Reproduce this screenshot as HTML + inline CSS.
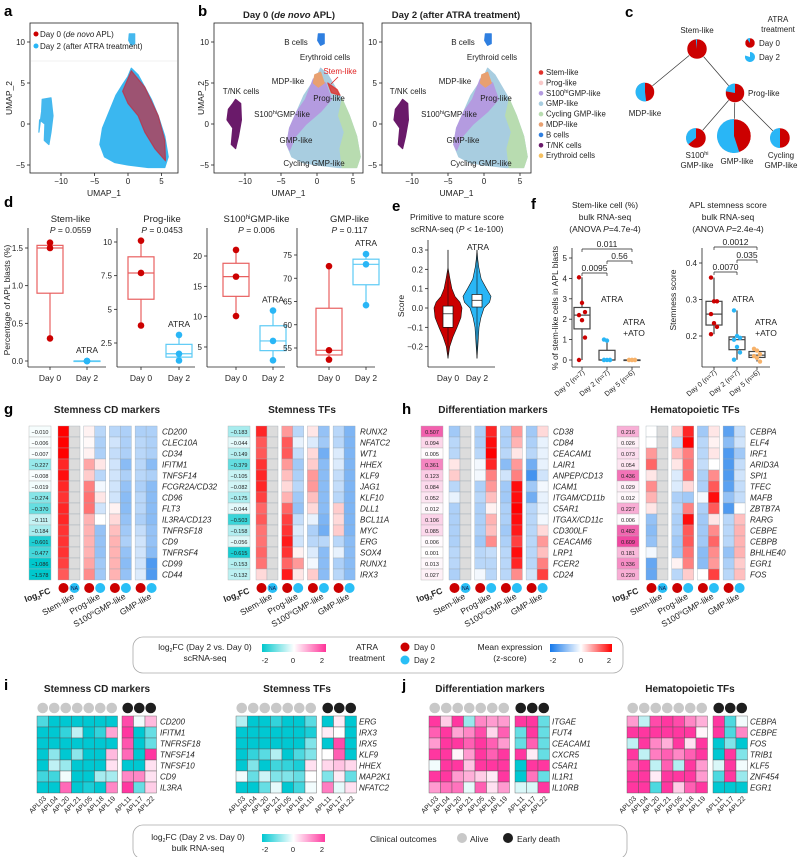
<!DOCTYPE html>
<html><head><meta charset="utf-8"><title>APL figure</title>
<style>html,body{margin:0;padding:0;background:#fff;}svg{display:block;}</style></head>
<body>
<svg id="fig" width="800" height="857" viewBox="0 0 800 857" font-family="Liberation Sans, Arial, sans-serif"></svg>
<script>
/* ---------------- DATA ---------------- */
const dDay0Stem=[1.57,1.5,0.3], dDay2Stem=[0,0,0];
const dDay0Prog=[10.1,7.7,3.8], dDay2Prog=[3.1,1.7,1.2];
const dDay0S100=[21,16.6,10.1], dDay2S100=[11,6,2.8];
const dDay0GMP=[72.6,54.5,52.5], dDay2GMP=[75.2,73,64.2];
const dTitles=['Stem-like','Prog-like','S100<tspan font-size="6" dy="-3">hi</tspan><tspan dy="3">GMP-like</tspan>','GMP-like'];
const dPvals=['0.0559','0.0453','0.006','0.117'];
const dTickValsStem=[0,0.5,1,1.5];
const dTickValsProg=[2.5,5,7.5,10];
const dTickValsS100=[5,10,15,20], dTickValsGMP=[55,60,65,70,75];
const eGrid=[-0.26,-0.2,-0.15,-0.1,-0.05,0,0.03,0.06,0.1,0.15,0.21,0.25,0.3];
const eDens0=[0,0.12,0.35,0.65,0.92,1,0.85,0.5,0.28,0.14,0,0,0];
const eDens2=[0,0.06,0.1,0.14,0.28,0.5,0.9,1,0.68,0.3,0.13,0.06,0];
const eBox0=[-0.1,-0.03,0.01], eBox2=[0.005,0.04,0.07];
const eTicks=[-0.2,-0.1,0,0.1,0.2,0.3];
const fStemD0=[4.05,2.8,2.35,2.2,1.95,1.1,0], fStemD2=[1.0,0.95,0,0,0,0,0], fStemD5=[0,0,0,0,0,0];
const fScoreD0=[0.36,0.295,0.295,0.26,0.235,0.225,0.205], fScoreD2=[0.27,0.2,0.195,0.19,0.17,0.155,0.135], fScoreD5=[0.165,0.16,0.15,0.145,0.14,0.13];
const fCats=['Day 0 (n=7)','Day 2 (n=7)','Day 5 (n=6)'];
const fStemP=['0.0095','0.56','0.011'], fScoreP=['0.0070','0.035','0.0012'];
const cNodes=['Stem-like','MDP-like','Prog-like','S100hi GMP-like','GMP-like','Cycling GMP-like'];
const cDay2Frac=[0.02,0.52,0.22,0.36,0.55,0.5];
const cSize=[10,9.5,9.5,10,17,10];
const gRowsL=['CD200','CLEC10A','CD34','IFITM1','TNFSF14','FCGR2A/CD32','CD96','FLT3','IL3RA/CD123','TNFRSF18','CD9','TNFRSF4','CD99','CD44'];
const gFcL=[-0.010,-0.006,-0.007,-0.227,-0.008,-0.019,-0.274,-0.370,-0.111,-0.184,-0.601,-0.477,-1.086,-1.578];
const gZL=[[2,null,0.1,-0.6,-0.6,-0.7,-0.7,-0.7],[2,null,0.05,-0.7,-0.4,-0.7,-0.6,-0.7],[2,null,0.1,-0.7,-0.5,-0.7,-0.6,-0.7],[1.7,null,0.7,0.2,-0.4,-1.0,-0.6,-1.0],[1.9,null,0.4,-0.6,-0.4,-0.7,-0.6,-0.7],[1.7,null,1.0,-0.1,-0.4,-0.9,-0.7,-1.0],[1.6,null,1.1,0.2,-0.4,-1.0,-0.6,-1.0],[1.7,null,1.1,-0.4,0.1,-1.0,-0.6,-1.0],[1.7,null,0.6,0,0.3,-0.9,-0.7,-1.0],[1.6,null,0.6,-0.9,0.5,-0.8,-0.5,-0.9],[1.6,null,0.6,-0.9,0.6,-0.7,-0.4,-0.9],[1.6,null,0.6,-0.9,0.6,-0.9,-0.4,-1.0],[1.5,null,0.7,-0.8,0.6,-1.0,-0.4,-1.5],[1.3,null,0.9,-0.8,0.6,-0.9,-0.3,-1.5]];
const gRowsR=['RUNX2','NFATC2','WT1','HHEX','KLF9','JAG1','KLF10','DLL1','BCL11A','MYC','ERG','SOX4','RUNX1','IRX3'];
const gFcR=[-0.183,-0.044,-0.149,-0.379,-0.105,-0.082,-0.175,-0.044,-0.503,-0.158,-0.056,-0.615,-0.153,-0.132];
const gZR=[[1.7,null,0.8,-0.6,0.2,-0.9,-0.6,-1.1],[1.3,null,1.3,-0.2,-0.3,-0.8,-0.6,-1.1],[1.3,null,1.3,-0.5,0.3,-1.2,-0.3,-1.1],[1.6,null,0.8,-0.8,0.4,-1.0,-0.3,-1.1],[1.7,null,0.5,-0.7,0.8,-1.0,-0.5,-1.1],[1.7,null,0.3,-0.6,0.8,-1.0,-0.5,-1.1],[1.5,null,0.6,-0.8,0.5,-1.0,-0.6,-1.1],[1.2,null,1.2,-0.9,0.3,-1.0,0.4,-1.1],[1.3,null,1.5,-0.5,-0.2,-1.1,0.3,-1.1],[1.1,null,1.6,-0.3,-0.7,-1.2,0.4,-1.1],[1.1,null,1.8,-0.4,-0.6,-0.6,-0.6,-1.0],[1.2,null,1.6,0.1,-0.3,-1.0,-0.2,-1.0],[1.1,null,1.2,0.8,-0.1,-1.0,-0.7,-1.0],[0.3,null,1.8,0.2,0.4,-1.0,-0.6,-1.0]];
const hRowsL=['CD38','CD84','CEACAM1','LAIR1','ANPEP/CD13','ICAM1','ITGAM/CD11b','C5AR1','ITGAX/CD11c','CD300LF','CEACAM6','LRP1','FCER2','CD24'];
const hFcL=[0.507,0.094,0.005,0.361,0.123,0.084,0.052,0.012,0.106,0.085,0.006,0.001,0.013,0.027];
const hZL=[[-0.8,null,-0.7,1.7,-0.7,0.8,-0.8,0.3],[-0.6,null,-0.7,1.9,-0.7,0.6,-0.7,-0.2],[-0.6,null,-0.6,2,-0.6,0.2,-0.6,-0.2],[0.2,null,-0.1,1.7,-1.0,0.8,-1.2,-0.2],[0.4,null,-0.1,1.0,-0.4,1.0,-1.6,-0.4],[-0.6,null,-0.7,0.8,-0.8,1.9,-0.8,-0.1],[-0.2,null,-0.6,0.5,-0.8,1.9,-1.2,-0.2],[-0.7,null,-0.7,0.1,-0.7,2,-0.6,-0.2],[-0.7,null,-0.7,0.6,-0.7,1.9,-0.6,-0.1],[-0.7,null,-0.7,0.5,-0.8,1.8,-0.6,0.3],[-0.7,null,-0.8,0.9,-0.7,1.5,-0.6,0.8],[-0.6,null,-0.6,-0.5,-0.6,1.9,-0.6,0.5],[-0.6,null,-0.6,-0.6,-0.6,1.7,-0.6,1.0],[-0.7,null,-0.1,-0.6,-0.6,0.9,-0.4,1.5]];
const hRowsR=['CEBPA','ELF4','IRF1','ARID3A','SPI1','TFEC','MAFB','ZBTB7A','RARG','CEBPE','CEBPB','BHLHE40','EGR1','FOS'];
const hFcR=[0.216,0.026,0.073,0.054,0.436,0.029,0.012,0.227,0.006,0.482,0.609,0.181,0.336,0.220];
const hZR=[[0,null,0.4,1.7,-0.8,0.2,-1.4,-0.5],[0,null,-0.5,2,-0.6,0.1,-1.0,-0.4],[0.8,null,0.5,1.0,-0.6,0.2,-1.5,-0.8],[1.2,null,0.2,1.1,-0.5,0,-1.5,-0.5],[0.2,null,-0.3,1.1,-0.7,0.9,-1.5,-0.4],[0.9,null,-0.3,0.3,-0.7,1.3,-1.4,-0.5],[0.6,null,-0.7,-0.8,-0.1,1.9,-0.9,-0.5],[0.2,null,-0.6,1.0,-0.7,1.3,-1.5,0],[-0.9,null,-0.7,1.9,-0.8,0.2,-0.6,0.5],[-1.0,null,-0.7,1.3,-0.8,0.9,-0.6,0.6],[-0.9,null,-0.8,1.3,-0.8,1.2,-0.6,0.6],[-0.1,null,-0.8,1.1,-1.0,0.9,-0.9,0.6],[-1.3,null,0.1,1.0,-1.0,0.8,-0.7,0.4],[-1.3,null,-0.6,0.4,0,1.5,-0.6,0.5]];
const patients=['APL03','APL04','APL20','APL21','APL05','APL18','APL19','APL11','APL17','APL22'];
const iRowsL=['CD200','IFITM1','TNFRSF18','TNFSF14','TNFSF10','CD9','IL3RA'];
const iZL=[[-1.4,-2,-2,-2,-2,-2,-2,1.8,-0.1,0.7],[-2,-2,-1.6,-0.5,-2,-1.6,0.9,2,-2,-1.2],[-2,-2,-2,-2,-2,-2,-2,1.7,-2,-1.2],[-2,-0.9,-2,-0.9,-2,-2,0.7,1.5,-2,2],[-2,-0.5,-0.8,-2,-2,-2,0.3,-2,-2,0.3],[-1.5,-1.5,-0.1,-2,-2,-0.7,-0.7,1.2,1.2,0.3],[-2,-2,1.5,-2,-1.8,-2,1.2,2,-1.2,0.5]];
const iRowsR=['ERG','IRX3','IRX5','KLF9','HHEX','MAP2K1','NFATC2'];
const iZR=[[-0.6,-2,-2,-1.6,-2,-2,-1.3,-2,0.2,-2],[-2,-2,-2,-2,-2,-2,-1.8,0.2,0,-2],[-2,-2,-2,-2,-2,-2,-1.0,-2,1.8,-2],[-2,-1.6,-1.3,-0.6,-2,-1.4,-1.0,0,1.6,-2],[-2,-1,-2,-1.5,-1.6,-1.8,0.3,0.4,0.6,0.4],[-0.1,-1.2,-0.4,-1,-1,-1.2,0,-1,0.2,-1.2],[-2,-2,-1.2,-0.2,-2,-1.5,-0.1,1.3,-0.2,0.3]];
const jRowsL=['ITGAE','FUT4','CEACAM1','CXCR5','C5AR1','IL1R1','IL10RB'];
const jZL=[[2,0.5,2,-0.8,1.2,1.0,1.0,2,2,-1.2],[1.6,2,0.9,1.2,1.8,0.4,1.6,-1.2,2,-1.2],[1.0,2,2,1.6,2,1.6,1.0,-1.2,1.6,-1.2],[2,2,0.1,1,2,1.6,2,2,0.2,-1.2],[-0.1,2,2,0.6,2,2,2,-2,2,2],[2,2,1,0.8,0.5,0.2,2,-2,1.4,-1.2],[1,1.4,1.4,-0.2,1.6,0.3,1.0,-0.3,-0.3,2]];
const jRowsR=['CEBPA','CEBPE','FOS','TRIB1','KLF5','ZNF454','EGR1'];
const jZR=[[1,-0.5,1.8,2,1.8,1.2,0.8,2,-1.4,-0.1],[2,2,2,2,2,2,0.1,2,-1.4,1.2],[-0.5,2,1.2,0.8,2,0.3,2,-2,-1,-2],[2,-0.5,1.3,1.6,1.2,1.6,2,-2,2,-1],[1.6,2,-0.5,1.6,-0.6,2,1.0,-0.3,2,-0.1],[2,2,0.2,2,2,2,1.0,-1.4,2,-0.8],[2,2,-1.4,2,0.5,1.6,2,-2,-2,-2]];
const uMain=[[0.5,6.8],[1.5,6],[2.5,4.5],[3.5,3],[4.5,1],[5.5,-1.5],[6,-4],[5.5,-5.3],[3,-5.3],[0,-5],[-2,-4.7],[-3.5,-4],[-4.2,-2.5],[-3.8,-0.5],[-2.8,1.5],[-1.8,3.5],[-0.8,4.8],[0,5.8]];
const uRed=[[0.5,6.5],[2.5,4.5],[4.5,1],[5.5,-2],[5.6,-4.5],[4,-3],[2.5,-1],[1.5,1],[0,2.5],[-0.8,4]];
const uLeft=[[-12.8,3],[-11.5,3.2],[-11.2,1],[-11.5,-1],[-11.8,-2.5],[-12.5,-2],[-12.4,0],[-13.2,0.5],[-13.3,-1],[-12.9,1.5]];
const uTNK=[[-11.3,3],[-10.6,2.5],[-10.5,0.5],[-10.9,-1.5],[-11.3,-3],[-11.9,-2.5],[-11.7,-0.5],[-12.5,0.5],[-12.3,1.8],[-11.7,2.5]];
const uPurple=[[-0.5,5.5],[1.2,5],[2,3],[0.5,1.5],[-1.5,0],[-3,-1.5],[-3.8,-3.2],[-4.2,-2.5],[-3.8,-0.5],[-2.8,1.5],[-1.6,3]];
const uGreen=[[3.5,3],[4.5,1],[5.5,-1.5],[6,-4],[5.5,-5.3],[3.5,-5.3],[3.2,-3],[3.8,-1],[3,1]];
const uMDP=[[-0.3,6],[0.5,6.3],[1,5],[0.2,4.5],[-0.5,5]];
const uStem=[[1.5,5],[2.8,4.2],[3.2,3.5],[2,3.8]];
const uB=[[0.2,11],[1,11],[1,9.8],[0.5,9.6],[0.1,10.2]];
const bLegend=['Stem-like','Prog-like','S100<tspan font-size="5.5" dy="-3">hi</tspan><tspan dy="3">GMP-like</tspan>','GMP-like','Cycling GMP-like','MDP-like','B cells','T/NK cells','Erythroid cells'];
const bLegendCol=['#e0302a','#f8c8c8','#b49be0','#a8cde0','#b8dcb0','#e8a070','#2f7fe0','#6a1a6a','#f5c060'];

/* ---------------- HELPERS ---------------- */
const NS='http://www.w3.org/2000/svg';
const svg=document.getElementById('fig');
function mk(tag,a,p){const e=document.createElementNS(NS,tag);for(const k in a)e.setAttribute(k,a[k]);(p||svg).appendChild(e);return e;}
function tx(x,y,s,a,name){
  const e=mk('text',Object.assign({x:x,y:y,'font-size':8,fill:'#222'},a||{}));
  if(String(s).indexOf('<')>=0)e.innerHTML=s;else e.textContent=s;
  
  
  return e;}
function ln(x1,y1,x2,y2,st,w,name){const e=mk('line',{x1:x1,y1:y1,x2:x2,y2:y2,stroke:st||'#222','stroke-width':w||0.8});
  
  return e;}
function mix(a,b,t){return 'rgb('+a.map((v,i)=>Math.round(v+(b[i]-v)*t)).join(',')+')';}
const W=[255,255,255];
function zcol(v){if(v===null)return '#dcdcdc';let t=Math.max(-1,Math.min(1,v/2));return t<0?mix(W,[20,120,235],-t):mix(W,[255,0,0],t);}
function fcol(v){let t=Math.pow(Math.min(1,Math.abs(v)/0.7),0.8);return v<0?mix(W,[0,200,205],t):mix(W,[238,50,150],t);}
function bcol(v){let t=Math.min(1,Math.abs(v)/2);return v<0?mix(W,[0,200,210],t):mix(W,[255,55,160],t);}
function quant(arr,q){const s=arr.slice().sort((a,b)=>a-b);const p=(s.length-1)*q;const lo=Math.floor(p),hi=Math.ceil(p);return s[lo]+(s[hi]-s[lo])*(p-lo);}
function panelLabel(x,y,s){tx(x,y,s,{'font-size':15,'font-weight':'bold',fill:'#000'},'panel-label-'+s);}

panelLabel(4,16,'a');panelLabel(198,16,'b');panelLabel(625,17,'c');
panelLabel(4,207,'d');panelLabel(392,211,'e');panelLabel(531,209,'f');
panelLabel(4,414,'g');panelLabel(402,414,'h');panelLabel(4,690,'i');panelLabel(402,690,'j');

/* ---------------- UMAP a / b ---------------- */
function poly(pts,xf,yf,fill,op,name){const e=mk('polygon',{points:pts.map(p=>xf(p[0]).toFixed(1)+','+yf(p[1]).toFixed(1)).join(' '),fill:fill,'fill-opacity':op,stroke:fill,'stroke-width':1.2,'stroke-linejoin':'round','stroke-opacity':op});
  
  return e;}
function umapAxes(x0,x1,xf,name){
  const r=mk('rect',{x:x0,y:23,width:x1-x0,height:150,fill:'none',stroke:'#222','stroke-width':0.8});
  
  
  [-10,-5,0,5].forEach(u=>{ln(xf(u),173,xf(u),176,'#222',0.8,name+'-x-tick');tx(xf(u),184,u===0?'0':(u<0?'\u2212'+(-u):u),{'text-anchor':'middle','font-size':8},name+'-x-tick-label');});
  [10,5,0,-5].forEach(v=>{ln(x0-3,aY(v),x0,aY(v),'#222',0.8,name+'-y-tick');tx(x0-5,aY(v)+3,v<0?'\u2212'+(-v):v,{'text-anchor':'end','font-size':8},name+'-y-tick-label');});
  tx((x0+x1)/2,196,'UMAP_1',{'text-anchor':'middle','font-size':8.5},name+'-x-axis-title');
}
const aX=u=>128+6.7*u, aY=v=>124-8.2*v;
const b1X=u=>317+7.2*u, b2X=u=>484+7.2*u;
umapAxes(30,178,aX,'umap-a');
tx(12,98,'UMAP_2',{'text-anchor':'middle','font-size':8.5,transform:'rotate(-90 12 98)'},'umap-a-y-axis-title');
poly(uMain,aX,aY,'#3ab7f0',1,'umap-a-main-cloud');
poly(uRed,aX,aY,'#c8283c',0.7,'umap-a-day0-cloud');
poly(uLeft,aX,aY,'#45b8ee',1,'umap-a-left-cluster');
poly(uB,aX,aY,'#45b8ee',1,'umap-a-top-cluster');
ln(31,61,177,61,'#eee',0.8,'umap-a-legend-rule');
mk('circle',{cx:36,cy:34,r:2.5,fill:'#cc0000'});
mk('circle',{cx:36,cy:46,r:2.5,fill:'#29b6f6'});
tx(40,37,'Day 0 (<tspan font-style="italic">de novo</tspan> APL)',{'font-size':8},'legend-day0');
tx(40,49,'Day 2 (after ATRA treatment)',{'font-size':8},'legend-day2');
function umapB(xf,x0,day0,name){
  umapAxes(x0,x0+149,xf,name);
  poly(uMain,xf,aY,'#a8cde0',1,name+'-gmp-cloud');
  poly(uGreen,xf,aY,'#b8dcb0',1,name+'-cycling-cloud');
  poly(uPurple,xf,aY,'#b49be0',1,name+'-s100-cloud');
  poly(uMDP,xf,aY,'#e8a070',1,name+'-mdp-cloud');
  if(day0)poly(uStem,xf,aY,'#e0302a',0.8,name+'-stem-cloud');
  poly(uTNK,xf,aY,'#6a1a6a',1,name+'-tnk-cloud');
  poly(uB,xf,aY,'#2f7fe0',1,name+'-b-cloud');
  const o=xf(0)-317;
  tx(296+o,45,'B cells',{'text-anchor':'middle','font-size':8},name+'-b-label');
  tx(325+o,60,'Erythroid cells',{'text-anchor':'middle','font-size':8},name+'-ery-label');
  tx(288+o,84,'MDP-like',{'text-anchor':'middle','font-size':8},name+'-mdp-label');
  tx(329+o,101,'Prog-like',{'text-anchor':'middle','font-size':8},name+'-prog-label');
  tx(241+o,94,'T/NK cells',{'text-anchor':'middle','font-size':8},name+'-tnk-label');
  tx(282+o,117,'S100<tspan font-size="5.5" dy="-3">hi</tspan><tspan dy="3">GMP-like</tspan>',{'text-anchor':'middle','font-size':8},name+'-s100-label');
  tx(296+o,143,'GMP-like',{'text-anchor':'middle','font-size':8},name+'-gmp-label');
  tx(314+o,166,'Cycling GMP-like',{'text-anchor':'middle','font-size':8},name+'-cycling-label');
  if(day0){tx(340,74,'Stem-like',{'text-anchor':'middle','font-size':8,fill:'#e02020'},name+'-stem-label');ln(338,77,331,84,'#e02020',0.8,'stem-pointer');}
}
umapB(b1X,214,true,'umap-b-day0');
umapB(b2X,382,false,'umap-b-day2');
tx(204,98,'UMAP_2',{'text-anchor':'middle','font-size':8.5,transform:'rotate(-90 204 98)'},'umap-b-y-axis-title');
tx(289,18,'Day 0 (<tspan font-style="italic">de novo</tspan> APL)',{'text-anchor':'middle','font-size':9.5,'font-weight':'bold'},'umap-b-day0-title');
tx(456,18,'Day 2 (after ATRA treatment)',{'text-anchor':'middle','font-size':9.5,'font-weight':'bold'},'umap-b-day2-title');
bLegend.forEach((s,i)=>{const y=75+i*10.4;const c=mk('circle',{cx:541,cy:y-2.5,r:2.3,fill:bLegendCol[i]});
  
  tx(546,y,s,{'font-size':7.8},'umap-b-legend-entry');});

/* ---------------- PANEL c ---------------- */
const cPos=[[697,49],[645,92],[735,93],[696,138],[734,136],[780,138]];
const cEdges=[[0,1],[0,2],[2,3],[2,4],[2,5]];
cEdges.forEach(e=>ln(cPos[e[0]][0],cPos[e[0]][1],cPos[e[1]][0],cPos[e[1]][1],'#333',0.7,'tree-edge'));
function pie(cx,cy,r,frac,name){
  const c=mk('circle',{cx:cx,cy:cy,r:r,fill:'#cc0000',stroke:'#fff','stroke-width':0.5});
  
  
  if(frac>0){const a=2*Math.PI*frac;const x=cx+r*Math.sin(-a),y=cy-r*Math.cos(-a);
    const p=mk('path',{d:`M${cx},${cy} L${cx},${cy-r} A${r},${r} 0 ${frac>0.5?1:0} 0 ${x.toFixed(2)},${y.toFixed(2)} Z`,fill:'#29b6f6'});
    
    }
}
cNodes.forEach((n,i)=>pie(cPos[i][0],cPos[i][1],cSize[i],cDay2Frac[i],'pie-'+n.replace(/\s/g,'-').toLowerCase()));
tx(697,33,'Stem-like',{'text-anchor':'middle','font-size':8},'node-label');
tx(645,116,'MDP-like',{'text-anchor':'middle','font-size':8},'node-label');
tx(748,96,'Prog-like',{'font-size':8},'node-label');
tx(697,158,'S100<tspan font-size="5.5" dy="-3">hi</tspan>',{'text-anchor':'middle','font-size':8},'node-label');
tx(697,168,'GMP-like',{'text-anchor':'middle','font-size':8},'node-label');
tx(737,164,'GMP-like',{'text-anchor':'middle','font-size':8},'node-label');
tx(781,158,'Cycling',{'text-anchor':'middle','font-size':8},'node-label');
tx(781,168,'GMP-like',{'text-anchor':'middle','font-size':8},'node-label');
tx(778,22,'ATRA',{'text-anchor':'middle','font-size':8},'legend-title');
tx(778,32,'treatment',{'text-anchor':'middle','font-size':8},'legend-title');
pie(750,43,5,0.1,'legend-pie-day0');
const lp=mk('path',{d:'M750,57 L750,52 A5,5 0 1 1 745.2,55.5 Z',fill:'#29b6f6'});

tx(759,46,'Day 0',{'font-size':8},'legend-day0');
tx(759,60,'Day 2',{'font-size':8},'legend-day2');

/* ---------------- PANEL d ---------------- */
function boxplot(xc,vals,yf,col,stroke,name,w){
  w=w||13;const q1=quant(vals,0.25),md=quant(vals,0.5),q3=quant(vals,0.75),mn=Math.min(...vals),mx=Math.max(...vals);
  ln(xc,yf(mx),xc,yf(q3),stroke,1.2,name+'-whisker');ln(xc,yf(q1),xc,yf(mn),stroke,1.2,name+'-whisker');
  const r=mk('rect',{x:xc-w,y:yf(q3),width:2*w,height:Math.max(0.5,yf(q1)-yf(q3)),fill:'none',stroke:stroke,'stroke-width':1.2});
  
  
  ln(xc-w,yf(md),xc+w,yf(md),stroke,1.2,name+'-median');
}
function dpanel(ax,x0,x2,yf,ticks,d0,d2,title,p,name){
  ln(ax,228,ax,367,'#222',0.8,name+'-y-axis');ln(ax,367,ax+78,367,'#222',0.8,name+'-x-axis');
  ticks.forEach(v=>{ln(ax-3,yf(v),ax,yf(v),'#222',0.8,name+'-y-tick');tx(ax-5,yf(v)+3,v>=10||Number.isInteger(v)&&v>4?String(v):v.toFixed(1),{'text-anchor':'end','font-size':8},name+'-y-tick-label');});
  [x0,x2].forEach((x,i)=>{ln(x,367,x,370,'#222',0.8,name+'-x-tick');tx(x,381,i?'Day 2':'Day 0',{'text-anchor':'middle','font-size':8.5},name+'-x-tick-label');});
  boxplot(x0,d0,yf,'#cc0000','#e86060',name+'-day0');boxplot(x2,d2,yf,'#29b6f6','#5ccaf5',name+'-day2');
  d0.forEach(v=>{const c=mk('circle',{cx:x0,cy:yf(v),r:3.3,fill:'#cc0000'});});
  d2.forEach(v=>{const c=mk('circle',{cx:x2,cy:yf(v),r:3.3,fill:'#29b6f6'});});
  tx(x2,yf(Math.max(...d2))-8,'ATRA',{'text-anchor':'middle','font-size':8.5},name+'-atra-label');
  tx((x0+x2)/2+2,222,title,{'text-anchor':'middle','font-size':9.5},name+'-title');
  tx((x0+x2)/2+2,233,'<tspan font-style="italic">P</tspan> = '+p,{'text-anchor':'middle','font-size':8.5},name+'-pvalue');
}
const lin=(vA,yA,vB,yB)=>v=>yA+(v-vA)*(yB-yA)/(vB-vA);
dpanel(28,50,87,lin(0,361,1.5,248),dTickValsStem,dDay0Stem,dDay2Stem,dTitles[0],dPvals[0],'box-stem');
dpanel(117,141,179,lin(2.5,343,10,242),dTickValsProg,dDay0Prog,dDay2Prog,dTitles[1],dPvals[1],'box-prog');
dpanel(207,236,273,lin(5,347,20,256),dTickValsS100,dDay0S100,dDay2S100,dTitles[2],dPvals[2],'box-s100');
dpanel(297,329,366,lin(55,348,75,255),dTickValsGMP,dDay0GMP,dDay2GMP,dTitles[3],dPvals[3],'box-gmp');
tx(10,300,'Percentage of APL blasts (%)',{'text-anchor':'middle','font-size':8.5,transform:'rotate(-90 10 300)'},'d-y-axis-title');

/* ---------------- PANEL e ---------------- */
const eY=lin(0,308,0.3,250);
ln(428,240,428,367,'#222',0.8,'e-y-axis');ln(428,367,495,367,'#222',0.8,'e-x-axis');
eTicks.forEach(v=>{ln(425,eY(v),428,eY(v),'#222',0.8,'e-y-tick');tx(423,eY(v)+3,(v<0?'\u2212':'')+Math.abs(v).toFixed(1),{'text-anchor':'end','font-size':8},'e-y-tick-label');});
function violin(xc,dens,col,name){
  const L=eGrid.map((g,i)=>[xc-dens[i]*14,eY(g)]);const R=eGrid.map((g,i)=>[xc+dens[i]*14,eY(g)]).reverse();
  const p=mk('polygon',{points:L.concat(R).map(q=>q[0].toFixed(1)+','+q[1].toFixed(1)).join(' '),fill:col,stroke:'#111','stroke-width':0.6,'stroke-linejoin':'round'});
  
  }
violin(448,eDens0,'#cc0000','violin-day0');violin(477,eDens2,'#29b6f6','violin-day2');
function ebox(xc,b,name){ln(xc,eY(eGrid[0]),xc,eY(eGrid[eGrid.length-1]),'#111',0.6,name+'-line');
  const r=mk('rect',{x:xc-5,y:eY(b[2]),width:10,height:eY(b[0])-eY(b[2]),fill:'#fff',stroke:'#111','stroke-width':0.7});
  
  
  ln(xc-5,eY(b[1]),xc+5,eY(b[1]),'#111',0.7,name+'-median');}
ebox(448,eBox0,'violin-box-day0');ebox(477,eBox2,'violin-box-day2');
tx(448,381,'Day 0',{'text-anchor':'middle','font-size':8.5},'e-x-tick-label');tx(477,381,'Day 2',{'text-anchor':'middle','font-size':8.5},'e-x-tick-label');
tx(478,250,'ATRA',{'text-anchor':'middle','font-size':8.5},'e-atra-label');
tx(457,220,'Primitive to mature score',{'text-anchor':'middle','font-size':8.5},'e-title');
tx(457,232,'scRNA-seq (<tspan font-style="italic">P</tspan> &lt; 1e-100)',{'text-anchor':'middle','font-size':8.5},'e-subtitle');
tx(404,306,'Score',{'text-anchor':'middle','font-size':8.5,transform:'rotate(-90 404 306)'},'e-y-axis-title');

/* ---------------- PANEL f ---------------- */
function fpanel(ax,xs,yf,ticks,fmt,groups,pv,bY,name){
  ln(ax,248,ax,367,'#222',0.8,name+'-y-axis');ln(ax,367,ax+68,367,'#222',0.8,name+'-x-axis');
  ticks.forEach(v=>{ln(ax-3,yf(v),ax,yf(v),'#222',0.8,name+'-y-tick');tx(ax-5,yf(v)+3,fmt(v),{'text-anchor':'end','font-size':8},name+'-y-tick-label');});
  const cols=['#cc0000','#29b6f6','#f7b26a'];
  groups.forEach((g,i)=>{boxplot(xs[i],g,yf,cols[i],'#444',name+'-g'+i,8);
    g.forEach((v,k)=>{const c=mk('circle',{cx:xs[i]+((k%3)-1)*3,cy:yf(v),r:2.2,fill:cols[i]});
      
      });
    ln(xs[i],367,xs[i],370,'#222',0.8,name+'-x-tick');
    tx(xs[i]+3,373,fCats[i],{'text-anchor':'end','font-size':7,transform:`rotate(-40 ${xs[i]+3} 373)`},name+'-x-tick-label');});
  const pairs=[[0,1],[1,2],[0,2]];
  pairs.forEach((pp,i)=>{const y=bY[i];ln(xs[pp[0]],y,xs[pp[1]],y,'#222',0.7,name+'-bracket');ln(xs[pp[0]],y,xs[pp[0]],y+3,'#222',0.7,name+'-bracket');ln(xs[pp[1]],y,xs[pp[1]],y+3,'#222',0.7,name+'-bracket');
    tx((xs[pp[0]]+xs[pp[1]])/2,y-2,pv[i],{'text-anchor':'middle','font-size':8.5},name+'-pvalue');});
}
const fY1=lin(0,360,5,258);
fpanel(572,[582,607,632],fY1,[0,1,2,3,4,5],v=>String(v),[fStemD0,fStemD2,fStemD5],fStemP,[273,261,249],'f-stem');
tx(605,208,'Stem-like cell (%)',{'text-anchor':'middle','font-size':8.5},'f-stem-title');
tx(605,220,'bulk RNA-seq',{'text-anchor':'middle','font-size':8.5},'f-stem-title');
tx(605,232,'(ANOVA <tspan font-style="italic">P</tspan>=4.7e-4)',{'text-anchor':'middle','font-size':8.5},'f-stem-title');
tx(612,302,'ATRA',{'text-anchor':'middle','font-size':8.5},'f-atra-label');
tx(634,325,'ATRA',{'text-anchor':'middle','font-size':8.5},'f-atra-ato-label');tx(634,336,'+ATO',{'text-anchor':'middle','font-size':8.5},'f-atra-ato-label');
tx(558,308,'% of stem-like cells in APL blasts',{'text-anchor':'middle','font-size':8.5,transform:'rotate(-90 558 308)'},'f-stem-y-axis-title');
const fY2=lin(0.2,336,0.4,263);
fpanel(702,[714,737,757],fY2,[0.2,0.3,0.4],v=>v.toFixed(1),[fScoreD0,fScoreD2,fScoreD5],fScoreP,[272,260,247],'f-score');
tx(728,208,'APL stemness score',{'text-anchor':'middle','font-size':8.5},'f-score-title');
tx(728,220,'bulk RNA-seq',{'text-anchor':'middle','font-size':8.5},'f-score-title');
tx(728,232,'(ANOVA <tspan font-style="italic">P</tspan>=2.4e-4)',{'text-anchor':'middle','font-size':8.5},'f-score-title');
tx(743,302,'ATRA',{'text-anchor':'middle','font-size':8.5},'f-atra-label');
tx(766,325,'ATRA',{'text-anchor':'middle','font-size':8.5},'f-atra-ato-label');tx(766,336,'+ATO',{'text-anchor':'middle','font-size':8.5},'f-atra-ato-label');
tx(676,300,'Stemness score',{'text-anchor':'middle','font-size':8.5,transform:'rotate(-90 676 300)'},'f-score-y-axis-title');

/* ---------------- PANELS g/h ---------------- */
const grpNames=['Stem-like','Prog-like','S100<tspan font-size="5" dy="-3">hi</tspan><tspan dy="3">GMP-like</tspan>','GMP-like'];
function drawHM(c){
  const top=426,h=11;
  tx(c.titleX,413,c.title,{'text-anchor':'middle','font-size':10,'font-weight':'bold'},c.name+'-title');
  c.rows.forEach((r,i)=>{
    const y=top+i*h;
    const fr=mk('rect',{x:c.fcX,y:y,width:22,height:h,fill:fcol(c.fc[i]),stroke:'#b0b0b0','stroke-width':0.4});
    
    
    tx(c.fcX+11,y+7.8,c.fc[i].toFixed(3).replace('-','\u2212'),{'text-anchor':'middle','font-size':5.5},c.name+'-logfc-value');
    for(let g=0;g<4;g++)for(let k=0;k<2;k++){
      const v=c.data[i][g*2+k];
      const cell=mk('rect',{x:c.gX+g*25.7+k*11,y:y,width:11,height:h,fill:zcol(v),stroke:'#9aa6b0','stroke-width':0.35});
      
      }
    tx(c.labX,y+8.5,r,{'font-size':8,'font-style':'italic'},c.name+'-row-label');
  });
  for(let g=0;g<4;g++){
    for(let k=0;k<2;k++){const cx=c.gX+g*25.7+k*11+5.5;
      const d=mk('circle',{cx:cx,cy:588,r:5,fill:k?'#29bff6':'#cc0000'});
      
      
      if(g===0&&k===1)tx(cx,590,'NA',{'text-anchor':'middle','font-size':5,fill:'#114'},'na-label');}
    const lx=c.gX+g*25.7+17;
    tx(lx,598,grpNames[g],{'text-anchor':'end','font-size':8.5,transform:`rotate(-30 ${lx} 598)`},c.name+'-group-label');
  }
  tx(c.fcX+22,593,'log<tspan font-size="5" dy="2">2</tspan><tspan dy="-2">FC</tspan>',{'text-anchor':'end','font-size':8.5,'font-weight':'bold',transform:`rotate(-20 ${c.fcX+22} 593)`},c.name+'-logfc-label');
}
drawHM({fcX:29,gX:58,labX:162,rows:gRowsL,data:gZL,fc:gFcL,title:'Stemness CD markers',titleX:107,name:'g-cd'});
drawHM({fcX:228,gX:256,labX:360,rows:gRowsR,data:gZR,fc:gFcR,title:'Stemness TFs',titleX:302,name:'g-tf'});
drawHM({fcX:421,gX:449,labX:553,rows:hRowsL,data:hZL,fc:hFcL,title:'Differentiation markers',titleX:493,name:'h-diff'});
drawHM({fcX:617,gX:646,labX:750,rows:hRowsR,data:hZR,fc:hFcR,title:'Hematopoietic TFs',titleX:695,name:'h-tf'});

/* ---------------- LEGEND 1 ---------------- */
function gradBar(id,x,y,w,h,stops,name){
  const defs=mk('defs',{});const lg=mk('linearGradient',{id:id,x1:0,x2:1,y1:0,y2:0},defs);
  stops.forEach((s,i)=>mk('stop',{offset:(i/(stops.length-1)),'stop-color':s},lg));
  const r=mk('rect',{x:x,y:y,width:w,height:h,fill:`url(#${id})`});
  
  }
const box1=mk('rect',{x:133,y:637,width:490,height:36,rx:10,fill:'none',stroke:'#aaa','stroke-width':0.8});


tx(205,650,'log<tspan font-size="5" dy="2">2</tspan><tspan dy="-2">FC (Day 2 vs. Day 0)</tspan>',{'text-anchor':'middle','font-size':8.5},'legend-logfc-title');
tx(205,661,'scRNA-seq',{'text-anchor':'middle','font-size':8.5},'legend-logfc-subtitle');
gradBar('g1',262,644,64,8,['#00c8cd','#ffffff','#ff3399'],'legend-logfc-gradient');
tx(265,663,'-2',{'text-anchor':'middle','font-size':7.5},'legend-tick');tx(293,663,'0',{'text-anchor':'middle','font-size':7.5},'legend-tick');tx(322,663,'2',{'text-anchor':'middle','font-size':7.5},'legend-tick');
tx(367,650,'ATRA',{'text-anchor':'middle','font-size':8.5},'legend-atra-title');tx(367,661,'treatment',{'text-anchor':'middle','font-size':8.5},'legend-atra-title');
mk('circle',{cx:405,cy:647,r:4.5,fill:'#cc0000'});
mk('circle',{cx:405,cy:660,r:4.5,fill:'#29bff6'});
tx(414,650,'Day 0',{'font-size':8},'legend-day0');tx(414,663,'Day 2',{'font-size':8},'legend-day2');
tx(510,650,'Mean expression',{'text-anchor':'middle','font-size':8.5},'legend-z-title');tx(510,661,'(z-score)',{'text-anchor':'middle','font-size':8.5},'legend-z-subtitle');
gradBar('g2',550,644,62,8,['#1478eb','#ffffff','#ff0000'],'legend-z-gradient');
tx(553,663,'-2',{'text-anchor':'middle','font-size':7.5},'legend-tick');tx(581,663,'0',{'text-anchor':'middle','font-size':7.5},'legend-tick');tx(609,663,'2',{'text-anchor':'middle','font-size':7.5},'legend-tick');

/* ---------------- PANELS i/j ---------------- */
function drawBulk(c){
  const top=716,h=11,cw=11.5;
  tx(c.titleX,692,c.title,{'text-anchor':'middle','font-size':10,'font-weight':'bold'},c.name+'-title');
  const xs=patients.map((p,j)=>j<7?c.ax+j*cw:c.dx+(j-7)*cw);
  c.rows.forEach((r,i)=>{
    patients.forEach((p,j)=>{
      const cell=mk('rect',{x:xs[j],y:top+i*h,width:cw,height:h,fill:bcol(c.data[i][j]),stroke:'#555','stroke-width':0.4});
      
      });
    tx(c.labX,top+i*h+8.5,r,{'font-size':8,'font-style':'italic'},c.name+'-row-label');
  });
  patients.forEach((p,j)=>{const cx=xs[j]+cw/2;
    const d=mk('circle',{cx:cx,cy:708,r:5.3,fill:j<7?'#c8c8c8':'#1e1e1e'});
    
    
    tx(cx+4,799,p,{'text-anchor':'end','font-size':7,transform:`rotate(-45 ${cx+4} 799)`},c.name+'-patient-label');});
}
drawBulk({ax:37,dx:122,labX:160,rows:iRowsL,data:iZL,title:'Stemness CD markers',titleX:97,name:'i-cd'});
drawBulk({ax:236,dx:322,labX:359,rows:iRowsR,data:iZR,title:'Stemness TFs',titleX:297,name:'i-tf'});
drawBulk({ax:429,dx:515,labX:552,rows:jRowsL,data:jZL,title:'Differentiation markers',titleX:490,name:'j-diff'});
drawBulk({ax:627,dx:713,labX:750,rows:jRowsR,data:jZR,title:'Hematopoietic TFs',titleX:690,name:'j-tf'});

/* ---------------- LEGEND 2 ---------------- */
const box2=mk('rect',{x:133,y:825,width:494,height:34,rx:10,fill:'none',stroke:'#aaa','stroke-width':0.8});


tx(198,840,'log<tspan font-size="5" dy="2">2</tspan><tspan dy="-2">FC (Day 2 vs. Day 0)</tspan>',{'text-anchor':'middle','font-size':8.5},'legend-bulk-title');
tx(198,851,'bulk RNA-seq',{'text-anchor':'middle','font-size':8.5},'legend-bulk-subtitle');
gradBar('g3',262,834,63,8,['#00c8d2','#ffffff','#ff3aa0'],'legend-bulk-gradient');
tx(265,852,'-2',{'text-anchor':'middle','font-size':7.5},'legend-tick');tx(293,852,'0',{'text-anchor':'middle','font-size':7.5},'legend-tick');tx(322,852,'2',{'text-anchor':'middle','font-size':7.5},'legend-tick');
tx(370,842,'Clinical outcomes',{'font-size':8.5},'legend-outcome-title');
mk('circle',{cx:462,cy:838,r:5,fill:'#c8c8c8'});
tx(470,842,'Alive',{'font-size':8.5},'legend-alive');
mk('circle',{cx:508,cy:838,r:5,fill:'#1e1e1e'});
tx(517,842,'Early death',{'font-size':8.5},'legend-early-death');
</script>
</body></html>
